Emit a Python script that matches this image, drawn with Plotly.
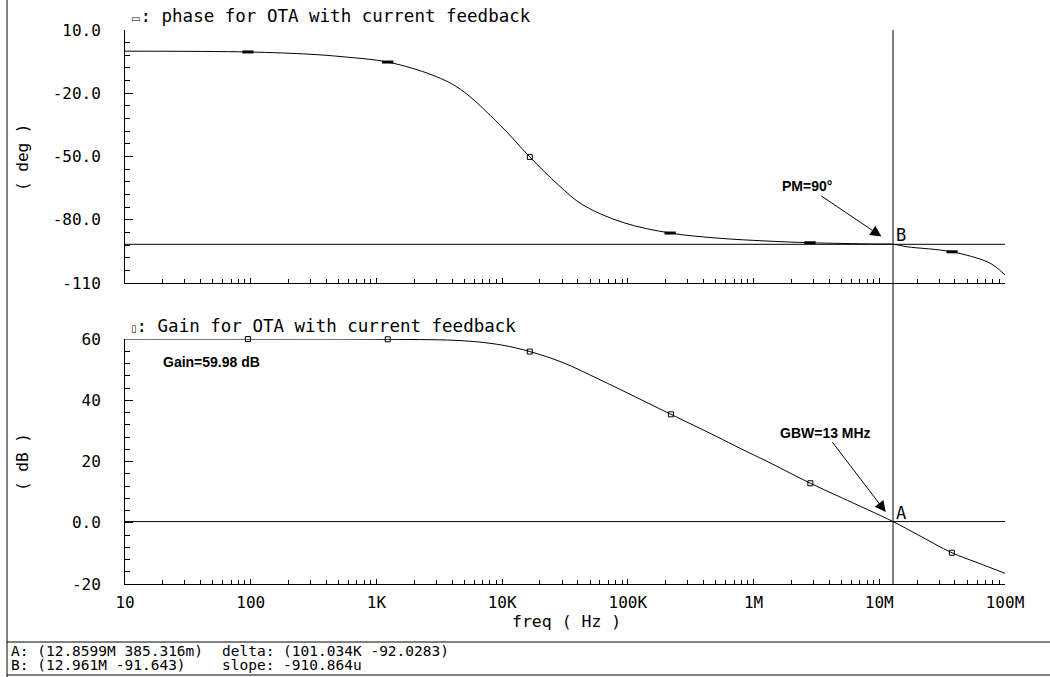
import math
import plotly.graph_objects as go

W, H = 1050, 677

# ---- data -------------------------------------------------------------
# phase response of the OTA (deg)
phase_freq = [10, 95, 296, 542, 1230, 2820, 4630, 9600, 16600, 28000, 44000,
              91600, 217000, 513000, 1.28e6, 2.81e6, 8.93e6, 12.961e6, 16.6e6,
              37.9e6, 72e6, 85e6, 100e6]
phase_deg = [-0.04, -0.42, -1.5, -2.7, -5.2, -11.5, -18.0, -35.0, -50.2, -63.5,
             -73.0, -81.3, -86.3, -88.7, -90.1, -90.9, -91.5, -91.643, -92.8,
             -95.2, -99.9, -102.5, -106.2]
phase_marker_idx = [1, 4, 12, 15, 19]
phase_open_marker_idx = [8]

# gain response of the OTA (dB)
gain_freq = [10, 95, 1230, 5000, 10000, 16600, 30000, 60000, 100000, 220000,
             500000, 782000, 1.3e6, 2.83e6, 5e6, 12.8599e6, 20e6, 37.8e6,
             60e6, 100e6]
gain_db = [59.98, 59.98, 59.9, 59.4, 58.0, 55.9, 52.4, 46.7, 42.3, 35.4, 28.3,
           24.3, 19.9, 12.9, 8.2, 0.385316, -3.8, -9.8, -13.0, -16.5]
gain_marker_idx = [1, 2, 5, 9, 13, 17]

# cursor readouts
cursor_a = (12.8599e6, 0.385316)
cursor_b = (12.961e6, -91.643)
delta = (101.034e3, -92.0283)
slope = -910.864e-6

# axis ticks
x_tickvals = [10, 100, 1e3, 1e4, 1e5, 1e6, 1e7, 1e8]
x_ticktext = ["10", "100", "1K", "10K", "100K", "1M", "10M", "100M"]
phase_tickvals = [10, -20, -50, -80, -110]
phase_ticktext = ["10.0", "-20.0", "-50.0", "-80.0", "-110"]
gain_tickvals = [60, 40, 20, 0, -20]
gain_ticktext = ["60", "40", "20", "0.0", "-20"]

# ---- layout helpers ----------------------------------------------------
MONO = "DejaVu Sans Mono"
BOLD = "Liberation Sans"


def px(x):
    return x / W


def py(y):
    return 1 - y / H


minor_x = [m * 10 ** d for d in range(1, 8) for m in range(2, 10)]

fig = go.Figure()

fig.add_trace(go.Scatter(x=phase_freq, y=phase_deg, mode="lines",
                         line=dict(color="black", width=1, shape="spline", smoothing=1.0),
                         xaxis="x", yaxis="y", hoverinfo="skip"))
fig.add_trace(go.Scatter(x=[phase_freq[i] for i in phase_marker_idx],
                         y=[phase_deg[i] for i in phase_marker_idx],
                         mode="markers", cliponaxis=False,
                         marker=dict(symbol="line-ew", size=8,
                                     line=dict(color="black", width=3)),
                         xaxis="x", yaxis="y", hoverinfo="skip"))
fig.add_trace(go.Scatter(x=[phase_freq[i] for i in phase_open_marker_idx],
                         y=[phase_deg[i] for i in phase_open_marker_idx],
                         mode="markers", cliponaxis=False,
                         marker=dict(symbol="square-open", size=5, color="black",
                                     line=dict(color="black", width=1)),
                         xaxis="x", yaxis="y", hoverinfo="skip"))

fig.add_trace(go.Scatter(x=gain_freq, y=gain_db, mode="lines",
                         line=dict(color="black", width=1, shape="spline", smoothing=1.0),
                         cliponaxis=False,
                         xaxis="x2", yaxis="y2", hoverinfo="skip"))
fig.add_trace(go.Scatter(x=[gain_freq[i] for i in gain_marker_idx],
                         y=[gain_db[i] for i in gain_marker_idx],
                         mode="markers", cliponaxis=False,
                         marker=dict(symbol="square-open", size=5, color="black",
                                     line=dict(color="black", width=1)),
                         xaxis="x2", yaxis="y2", hoverinfo="skip"))

xdom = [px(125), px(1005)]
common_x = dict(type="log", range=[1, 8], domain=xdom, showline=True,
                linecolor="black", linewidth=1, ticks="inside", ticklen=5,
                tickcolor="black", tickvals=x_tickvals, ticktext=x_ticktext,
                showgrid=False, zeroline=False, mirror=False, automargin=False,
                minor=dict(tickvals=minor_x, ticks="inside", ticklen=4,
                           tickcolor="black", showgrid=False),
                tickfont=dict(family=MONO, size=16, color="black"))
common_y = dict(showline=True, linecolor="black", linewidth=1, ticks="inside",
                ticklen=8, tickcolor="black", showgrid=False, zeroline=False,
                mirror=False, ticklabelstandoff=20, automargin=False,
                tickfont=dict(family=MONO, size=16, color="black"))

fig.update_layout(
    width=W, height=H, margin=dict(l=0, r=0, t=0, b=0, autoexpand=False),
    paper_bgcolor="white", plot_bgcolor="white", showlegend=False,
    xaxis=dict(common_x, anchor="y", showticklabels=False),
    yaxis=dict(common_y, anchor="x", domain=[py(283), py(30)], range=[-110, 10],
               tickvals=phase_tickvals, ticktext=phase_ticktext,
               minor=dict(dtick=6, tick0=10, ticks="inside", ticklen=5,
                          tickcolor="black", showgrid=False)),
    xaxis2=dict(common_x, anchor="y2", showticklabels=True, ticklabelstandoff=4),
    yaxis2=dict(common_y, anchor="x2", domain=[py(584), py(339)], range=[-20, 60],
                tickvals=gain_tickvals, ticktext=gain_ticktext,
                minor=dict(dtick=4, tick0=0, ticks="inside", ticklen=5,
                           tickcolor="black", showgrid=False)),
)

line_k = dict(color="black", width=1)
shapes = [
    # window frame
    dict(type="line", xref="paper", yref="paper", x0=px(7), x1=px(7), y0=0, y1=1, line=line_k),
    dict(type="line", xref="paper", yref="paper", x0=px(7), x1=1, y0=py(642), y1=py(642), line=line_k),
    dict(type="line", xref="paper", yref="paper", x0=px(7), x1=1, y0=py(675), y1=py(675), line=line_k),
    # cursors
    dict(type="line", xref="x", yref="paper", x0=cursor_a[0], x1=cursor_a[0],
         y0=py(584), y1=py(30), line=line_k),
    dict(type="line", xref="x domain", yref="y", x0=0, x1=1,
         y0=cursor_b[1], y1=cursor_b[1], line=line_k),
    dict(type="line", xref="x2 domain", yref="y2", x0=0, x1=1,
         y0=cursor_a[1], y1=cursor_a[1], line=line_k),
]
fig.update_layout(shapes=shapes)


def fmt_eng(v, digits):
    units = [(1e6, "M"), (1e3, "K"), (1, ""), (1e-3, "m"), (1e-6, "u")]
    for scale, suffix in units:
        if abs(v) >= scale:
            return f"{v / scale:.{digits}f}".rstrip("0").rstrip(".") + suffix
    return f"{v:g}"


def label(x, y, text, size=16, family=MONO, xanchor="left", **kw):
    return dict(xref="paper", yref="paper", x=px(x), y=py(y), xanchor=xanchor,
                yanchor="middle", showarrow=False, text=text,
                font=dict(family=family, size=size, color="black"), **kw)


ann = []
sym = "<span style='font-family:DejaVu Sans;font-size:10px'>{}</span>"
ann.append(label(129, 16, sym.format("\u25ad") + ": phase for OTA with current feedback", size=17.5))
ann.append(label(129, 326, sym.format("\u25af") + ": Gain for OTA with current feedback", size=17.5))
# axis titles
ann.append(label(22, 158, "( deg )", xanchor="center", textangle=-90))
ann.append(label(22, 462, "( dB )", xanchor="center", textangle=-90))
ann.append(label(566, 621, "freq ( Hz )", xanchor="center", size=16.5))
# callouts
ann.append(dict(xref="x", yref="y", x=math.log10(cursor_a[0]), y=cursor_b[1],
                ax=-86, ay=-58, text="<b>PM=90\u00b0</b>", showarrow=True,
                arrowhead=2, arrowsize=2.2, arrowwidth=1, arrowcolor="black",
                standoff=14, font=dict(family=BOLD, size=14, color="black")))
ann.append(dict(xref="x2", yref="y2", x=math.log10(cursor_a[0]), y=cursor_a[1],
                ax=-68, ay=-89, text="<b>GBW=13 MHz</b>", showarrow=True,
                arrowhead=2, arrowsize=2.2, arrowwidth=1, arrowcolor="black",
                standoff=12, font=dict(family=BOLD, size=14, color="black")))
ann.append(label(161, 362, "<b>Gain=59.98 dB</b>", size=14, family=BOLD))
ann.append(dict(xref="x", yref="y", x=math.log10(cursor_b[0]), y=cursor_b[1],
                xanchor="left", yanchor="bottom", xshift=1, yshift=-3,
                showarrow=False, text="B", font=dict(family=MONO, size=17, color="black")))
ann.append(dict(xref="x2", yref="y2", x=math.log10(cursor_a[0]), y=cursor_a[1],
                xanchor="left", yanchor="bottom", xshift=1, yshift=-3,
                showarrow=False, text="A", font=dict(family=MONO, size=17, color="black")))

# readout lines
ann.append(label(9, 651, f"A: ({fmt_eng(cursor_a[0], 4)} {fmt_eng(cursor_a[1], 3)})", size=14.5))
ann.append(label(9, 665, f"B: ({fmt_eng(cursor_b[0], 3)} {cursor_b[1]:.3f})", size=14.5))
ann.append(label(220, 651, f"delta: ({fmt_eng(delta[0], 3)} {delta[1]:.4f})", size=14.5))
ann.append(label(220, 665, f"slope: {fmt_eng(slope, 3)}", size=14.5))
fig.update_layout(annotations=ann)

fig.write_html("out.html", post_script="document.body.style.margin='0';")
